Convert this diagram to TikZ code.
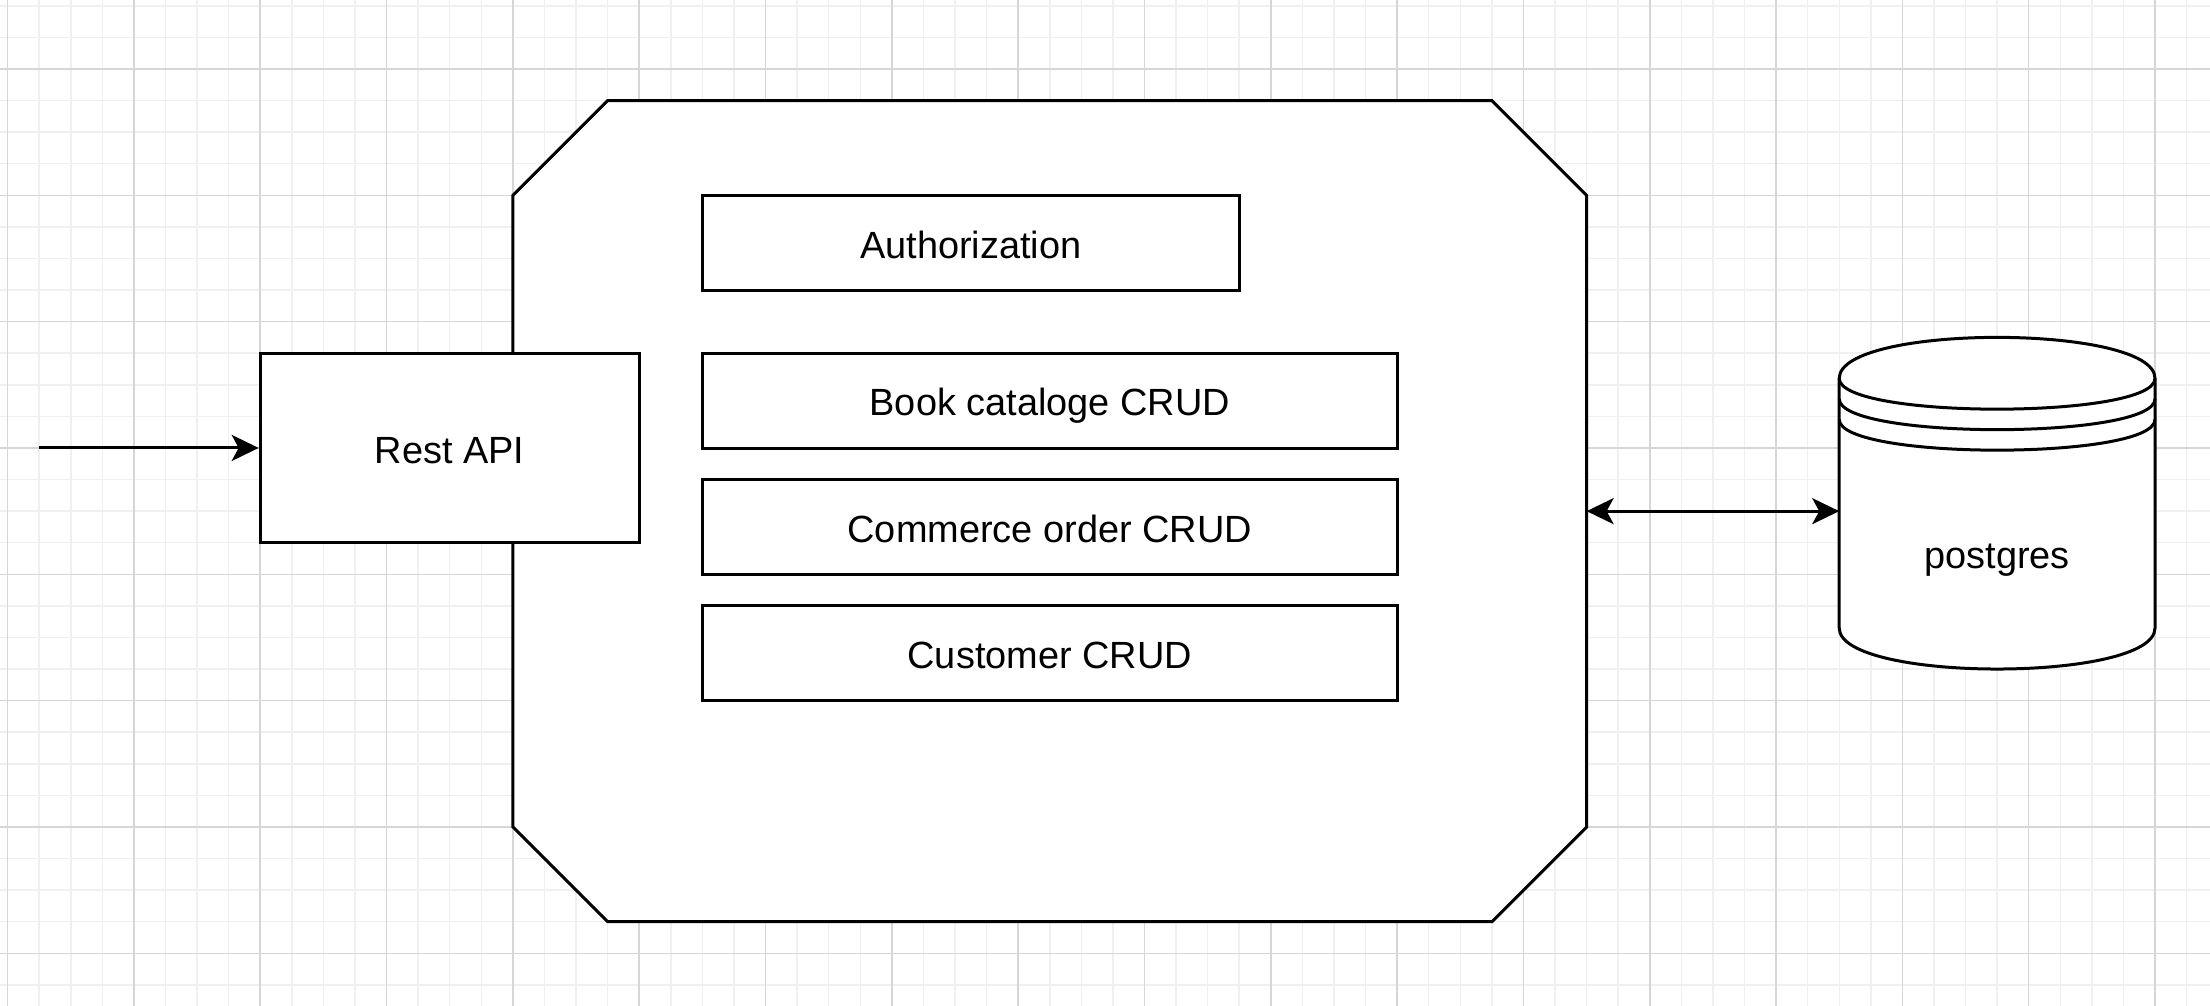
\documentclass[tikz,border=0pt]{standalone}
\usepackage{fontspec}
\setmainfont{Liberation Sans}
\usetikzlibrary{arrows.meta}
\definecolor{gridmajor}{RGB}{214,214,214}
\definecolor{gridminor}{RGB}{240,240,240}
\begin{document}
\begin{tikzpicture}[x=1pt,y=-1pt,
  lbl/.style={font=\fontsize{37.9}{45}\selectfont, text height=30.6pt, text depth=0pt},
  box/.style={draw=black, fill=white, line width=3pt, inner sep=0pt, lbl},
  frame/.style={draw=black, fill=white, line width=3pt, line join=miter},
  ghost/.style={inner sep=0pt, outer sep=0pt},
  tip/.style={Stealth[length=27pt,width=26pt,inset=7pt]},
  arr/.style={-{Stealth[length=27pt,width=26pt,inset=7pt]}, line width=3pt},
  darr/.style={{Stealth[length=27pt,width=26pt,inset=7pt]}-{Stealth[length=27pt,width=26pt,inset=7pt]}, line width=3pt}]
\useasboundingbox (0,0) rectangle (2210,1006);
\fill[white] (0,0) rectangle (2210,1006);
\begin{scope}
\clip (0,0) rectangle (2210,1006);
% minor grid
\foreach \k in {0,...,69} {\draw[gridminor, line width=1.5pt] ({7.6+\k*31.58},0) -- ({7.6+\k*31.58},1006);}
\foreach \k in {-2,...,29} {\draw[gridminor, line width=1.5pt] (0,{69+\k*31.58}) -- (2210,{69+\k*31.58});}
% major grid
\foreach \k in {0,4,...,68} {\draw[gridmajor, line width=1.5pt] ({7.6+\k*31.58},0) -- ({7.6+\k*31.58},1006);}
\foreach \k in {0,4,...,28} {\draw[gridmajor, line width=1.5pt] (0,{69+\k*31.58}) -- (2210,{69+\k*31.58});}
\end{scope}

% core container (octagon)
\node[ghost, minimum width=1073.7pt, minimum height=1121.1pt-300pt] (core) at (1049.75,511.15) {};
\draw[frame] ([xshift=94.7pt]core.north west) -- ([xshift=-94.7pt]core.north east)
  -- ([yshift=-94.7pt]core.north east) -- ([yshift=94.7pt]core.south east)
  -- ([xshift=-94.7pt]core.south east) -- ([xshift=94.7pt]core.south west)
  -- ([yshift=94.7pt]core.south west) -- ([yshift=-94.7pt]core.north west) -- cycle;

% inner modules
\node[box, minimum width=536.8pt, minimum height=94.8pt] (auth) at (970.8,242.7) {Authorization};
\node[box, minimum width=694.7pt, minimum height=94.8pt] (book) at (1049.75,400.6) {Book cataloge CRUD};
\node[box, minimum width=694.7pt, minimum height=94.8pt] (order) at (1049.75,526.9) {Commerce order CRUD};
\node[box, minimum width=694.7pt, minimum height=94.8pt] (cust) at (1049.75,653.25) {Customer CRUD};

% Rest API
\node[box, minimum width=379pt, minimum height=189.5pt] (api) at (449.7,447.95) {Rest API};

% database cylinder
\node[ghost, minimum width=315.8pt, minimum height=331.6pt] (db) at (1997.1,503.2) {};
\draw[frame]
  (1839.2,378.4) .. controls (1839.2,323.7) and (2155,323.7) .. (2155,378.4)
  -- (2155,628) .. controls (2155,682.7) and (1839.2,682.7) .. (1839.2,628) -- cycle;
\draw[line width=3pt]
  (1839.2,378.4) .. controls (1839.2,419.4) and (2155,419.4) .. (2155,378.4)
  (1839.2,398.9) .. controls (1839.2,439.9) and (2155,439.9) .. (2155,398.9)
  (1839.2,419.4) .. controls (1839.2,460.4) and (2155,460.4) .. (2155,419.4);
\node[lbl, anchor=base, inner sep=0pt, text height=, text depth=] (dblabel) at (1997.1,568.3) {postgres};

% connectors
\coordinate (src) at (39.2,447.95);
\draw[arr] (src) -- (api.west);
\draw[darr] (core.east) -- (core.east -| db.west);
\end{tikzpicture}
\end{document}
